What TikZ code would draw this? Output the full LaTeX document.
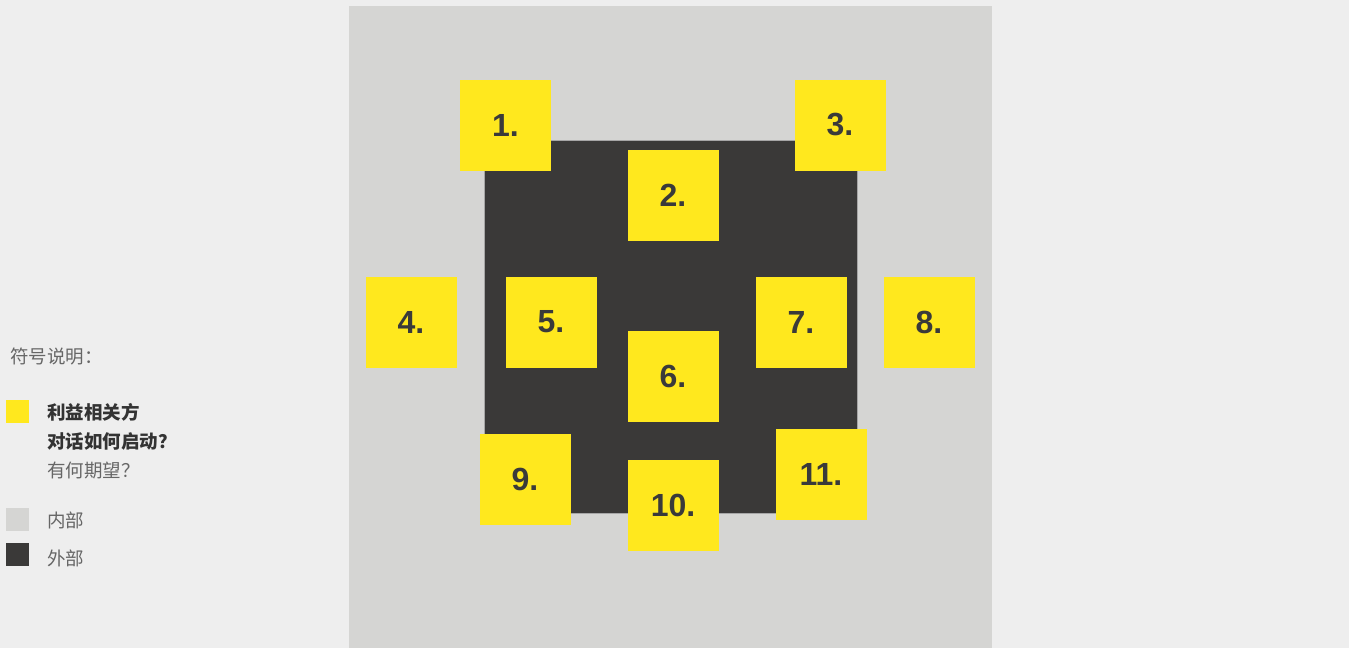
\documentclass[tikz,border=0pt]{standalone}
\usepackage{fontspec}
\setmainfont{Liberation Sans}
\newfontfamily\cjk{Noto Sans CJK SC}
\definecolor{bgc}{HTML}{EEEEEE}
\definecolor{inner}{HTML}{D5D5D3}
\definecolor{outer}{HTML}{3A3938}
\definecolor{stk}{HTML}{FFE81E}
\definecolor{numc}{HTML}{3A3A3A}
\definecolor{legtxt}{HTML}{666666}
\definecolor{legdark}{HTML}{333333}
\tikzset{
  stakebox/.style={fill=stk, minimum width=91pt, minimum height=91pt, inner sep=0pt, font=\fontsize{32}{32}\selectfont\bfseries, text=numc},
  legsq/.style={minimum width=23pt, minimum height=23pt, inner sep=0pt, anchor=north west},
  legtext/.style={anchor=west, font=\cjk\fontsize{18.5}{18.5}\selectfont, text=legtxt, inner sep=0pt},
  legbold/.style={anchor=west, font=\cjk\fontsize{18.5}{18.5}\selectfont\bfseries, text=legdark, inner sep=0pt}
}
\begin{document}
\begin{tikzpicture}[x=1pt,y=-1pt]
\fill[bgc] (0,0) rectangle (1349,648);
\useasboundingbox (0,0) rectangle (1349,648);
\fill[inner] (349,6) rectangle (992,648);
\draw[fill=outer, draw=gray!70] (484,140) rectangle (857,513);
\node[stakebox] (n1) at (505.5,125) {1.};
\node[stakebox] (n3) at (840,125) {3.};
\node[stakebox] (n2) at (673,195.5) {2.};
\node[stakebox] (n4) at (411,322) {4.};
\node[stakebox] (n5) at (551,322) {5.};
\node[stakebox] (n7) at (801,322) {7.};
\node[stakebox] (n8) at (929,322) {8.};
\node[stakebox] (n6) at (673,376.5) {6.};
\node[stakebox] (n9) at (525,479.5) {9.};
\node[stakebox] (n10) at (673,505.5) {10.};
\node[stakebox] (n11) at (821,474) {11.};
% legend
\node[legtext] (lt) at (10,357) {符号说明：};
\node[legsq, fill=stk] (ly) at (6,400) {};
\node[legbold] (l1) at (47,412) {利益相关方};
\node[legbold] (l2) at (47,441) {对话如何启动？};
\node[legtext] (l3) at (47,470) {有何期望？};
\node[legsq, fill=inner] (lg) at (6,508) {};
\node[legtext] (l4) at (47,520) {内部};
\node[legsq, fill=outer] (ld) at (6,543) {};
\node[legtext] (l5) at (47,558) {外部};
\end{tikzpicture}
\end{document}
